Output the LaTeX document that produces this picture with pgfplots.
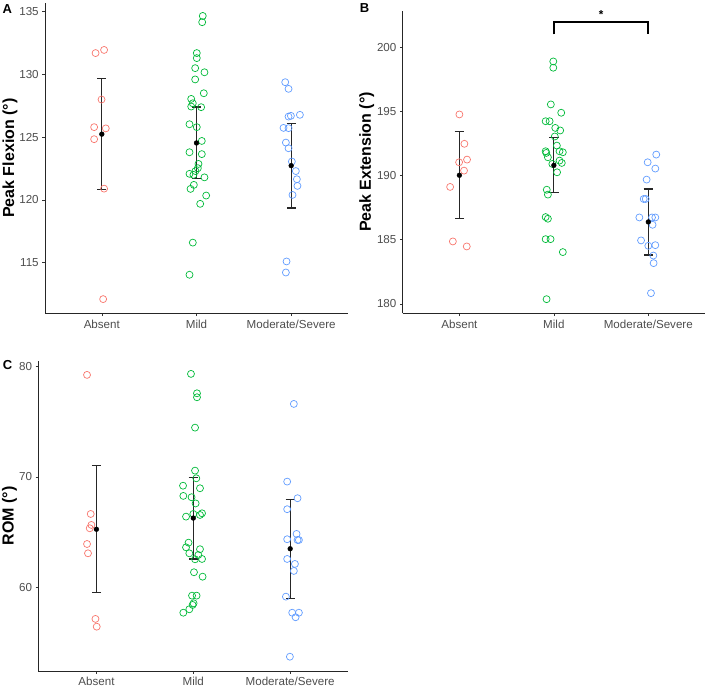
\documentclass[border=0pt]{standalone}
\usepackage{fontspec}
\setmainfont{Liberation Sans}
\usepackage{pgfplots}
\pgfplotsset{compat=1.18}

\definecolor{grpAbsent}{HTML}{F8766D}
\definecolor{grpMild}{HTML}{00BA38}
\definecolor{grpSevere}{HTML}{619CFF}
\definecolor{ticktext}{HTML}{4D4D4D}

\pgfplotsset{
  panel/.style={
    scale only axis,
    xmin=0.4, xmax=3.6,
    axis lines*=left,
    axis line style={black!85, line width=0.8pt},
    xtick={1,2,3},
    xticklabels={Absent, Mild, Moderate/Severe},
    tick align=outside,
    major tick length=2.8pt,
    tick style={black!80, line width=0.6pt},
    ticklabel style={font=\fontsize{11.6}{13}\selectfont, text=ticktext},
    /pgf/number format/assume math mode=true,
    ylabel style={font=\bfseries\fontsize{16}{18}\selectfont, anchor=center},
    clip=false,
  },
  jit/.style={only marks, mark=o, mark size=3.5pt, mark options={line width=0.7pt}},
  summ/.style={only marks, mark=*, mark size=2.4pt, black,
    error bars/.cd, y dir=both, y explicit,
    error bar style={line width=1.2pt, black!85},
    error mark options={rotate=90, mark size=4.65pt, line width=1.2pt, black!85}},
}

\begin{document}
\begin{tikzpicture}
\path[use as bounding box] (0,0) rectangle (709pt,687pt);

% ---------------- A: peak flexion ----------------
\begin{axis}[panel, at={(45pt,373.7pt)}, anchor=south west,
  width=303pt, height=310.3pt,
  ymin=110.97, ymax=135.69, ytick={115,120,125,130,135},
  ylabel={Peak Flexion (°)},
  ylabel style={at={(axis description cs:-0.1155,0.5)}}]
\addplot[jit, grpAbsent] table[row sep=\\] {
x y \\ 0.934 131.7 \\ 1.024 131.95 \\ 0.997 128.0 \\ 0.919 125.8 \\
1.042 125.7 \\ 0.919 124.84 \\ 1.024 120.9 \\ 1.014 112.1 \\
};
\addplot[jit, grpMild] table[row sep=\\] {
x y \\ 2.066 134.66 \\ 2.060 134.16 \\ 2.003 131.7 \\ 2.003 131.3 \\
1.986 130.5 \\ 2.084 130.17 \\ 1.986 129.6 \\ 2.077 128.5 \\
1.944 128.05 \\ 1.961 127.7 \\ 1.944 127.44 \\ 2.049 127.39 \\
1.926 126.03 \\ 2.003 125.8 \\ 2.056 124.7 \\ 1.926 123.8 \\
2.056 123.65 \\ 2.021 122.87 \\ 2.014 122.53 \\ 1.989 122.3 \\
1.926 122.08 \\ 1.968 122.0 \\ 2.084 121.8 \\ 1.972 121.2 \\
1.937 120.88 \\ 2.102 120.35 \\ 2.039 119.69 \\ 1.961 116.6 \\
1.926 114.04 \\
};
\addplot[jit, grpSevere] table[row sep=\\] {
x y \\ 2.937 129.38 \\ 2.972 128.85 \\ 2.972 126.64 \\ 2.997 126.7 \\
3.092 126.78 \\ 2.919 125.74 \\ 2.972 125.72 \\ 2.944 124.57 \\
2.972 124.12 \\ 3.007 123.06 \\ 3.049 122.3 \\ 3.060 121.65 \\
3.066 121.12 \\ 3.014 120.4 \\ 2.951 115.1 \\ 2.944 114.22 \\
};
\addplot[summ] coordinates {
(1,125.24) +- (0,4.43)
(2,124.54) +- (0,2.86)
(3,122.73) +- (0,3.38)
};
\end{axis}

% ---------------- B: peak extension ----------------
\begin{axis}[panel, at={(402.7pt,373.7pt)}, anchor=south west,
  width=302.3pt, height=302.4pt,
  ymin=179.27, ymax=202.84, ytick={180,185,190,195,200},
  ylabel={Peak Extension (°)},
  ylabel style={at={(axis description cs:-0.119,0.5)}}]
\addplot[jit, grpAbsent] table[row sep=\\] {
x y \\ 1.000 194.77 \\ 1.053 192.48 \\ 1.081 191.25 \\ 0.997 191.04 \\
1.049 190.39 \\ 0.902 189.12 \\ 0.931 184.87 \\ 1.078 184.48 \\
};
\addplot[jit, grpMild] table[row sep=\\] {
x y \\ 1.994 198.9 \\ 1.994 198.41 \\ 1.968 195.55 \\ 2.078 194.9 \\
1.913 194.24 \\ 1.955 194.24 \\ 2.015 193.72 \\ 2.067 193.52 \\
2.010 193.05 \\ 2.032 192.34 \\ 1.913 191.9 \\ 1.920 191.77 \\
2.060 191.9 \\ 2.095 191.82 \\ 1.937 191.43 \\ 2.060 191.17 \\
2.084 190.99 \\ 1.984 190.91 \\ 2.034 190.26 \\ 1.925 188.9 \\
1.937 188.52 \\ 1.913 186.77 \\ 1.937 186.64 \\ 1.913 185.05 \\
1.965 185.05 \\ 2.095 184.04 \\ 1.923 180.37 \\
};
\addplot[jit, grpSevere] table[row sep=\\] {
x y \\ 3.084 191.64 \\ 2.993 191.04 \\ 3.074 190.55 \\ 2.982 189.69 \\
2.951 188.18 \\ 2.972 188.18 \\ 2.905 186.74 \\ 3.039 186.74 \\
3.074 186.74 \\ 3.045 186.17 \\ 2.923 184.95 \\ 3.000 184.53 \\
3.074 184.58 \\ 3.053 183.77 \\ 3.056 183.18 \\ 3.028 180.84 \\
};
\addplot[summ] coordinates {
(1,190.03) +- (0,3.385)
(2,190.80) +- (0,2.145)
(3,186.39) +- (0,2.57)
};
% significance bracket between Mild and Moderate/Severe
\draw[black, line width=1.8pt] (axis cs:2,201.0) -- (axis cs:2,201.98)
  -- (axis cs:3,201.98) -- (axis cs:3,201.0);
\node[font=\bfseries\fontsize{11.6}{13}\selectfont] at (axis cs:2.5,202.55) {*};
\end{axis}

% ---------------- C: range of motion ----------------
\begin{axis}[panel, at={(38.3pt,16pt)}, anchor=south west,
  width=310pt, height=310.3pt,
  ymin=52.48, ymax=80.48, ytick={60,70,80},
  ylabel={ROM (°)},
  ylabel style={at={(axis description cs:-0.093,0.5)}}]
\addplot[jit, grpAbsent] table[row sep=\\] {
x y \\ 0.903 79.2 \\ 0.941 66.65 \\ 0.948 65.66 \\ 0.931 65.36 \\
0.903 63.94 \\ 0.913 63.1 \\ 0.990 57.18 \\ 1.003 56.48 \\
};
\addplot[jit, grpMild] table[row sep=\\] {
x y \\ 1.976 79.29 \\ 2.038 77.54 \\ 2.038 77.18 \\ 2.018 74.44 \\
2.018 70.56 \\ 2.031 69.87 \\ 1.894 69.2 \\ 2.069 68.97 \\
1.897 68.28 \\ 1.982 68.16 \\ 2.024 67.6 \\ 2.000 66.65 \\
1.925 66.41 \\ 2.069 66.56 \\ 2.090 66.71 \\ 1.951 64.06 \\
1.925 63.64 \\ 2.069 63.47 \\ 1.959 63.1 \\ 2.052 62.95 \\
2.090 62.59 \\ 2.018 62.56 \\ 2.007 61.39 \\ 2.096 60.99 \\
1.987 59.28 \\ 2.034 59.28 \\ 2.003 58.59 \\ 1.993 58.44 \\
1.959 58.05 \\ 1.897 57.74 \\
};
\addplot[jit, grpSevere] table[row sep=\\] {
x y \\ 3.038 76.58 \\ 2.969 69.57 \\ 3.076 68.07 \\ 2.969 67.08 \\
3.066 64.85 \\ 2.969 64.37 \\ 3.076 64.3 \\ 3.090 64.3 \\
2.969 62.59 \\ 3.049 62.14 \\ 3.038 61.51 \\ 2.956 59.19 \\
3.021 57.74 \\ 3.090 57.74 \\ 3.056 57.33 \\ 2.997 53.77 \\
};
\addplot[summ] coordinates {
(1,65.27) +- (0,5.72)
(2,66.28) +- (0,3.69)
(3,63.51) +- (0,4.47)
};
\end{axis}

% panel letters
\node[font=\bfseries\fontsize{13}{15}\selectfont] at (7.2pt,677.8pt) {A};
\node[font=\bfseries\fontsize{13}{15}\selectfont] at (364.5pt,679pt) {B};
\node[font=\bfseries\fontsize{13}{15}\selectfont] at (7.5pt,322pt) {C};
\end{tikzpicture}
\end{document}
